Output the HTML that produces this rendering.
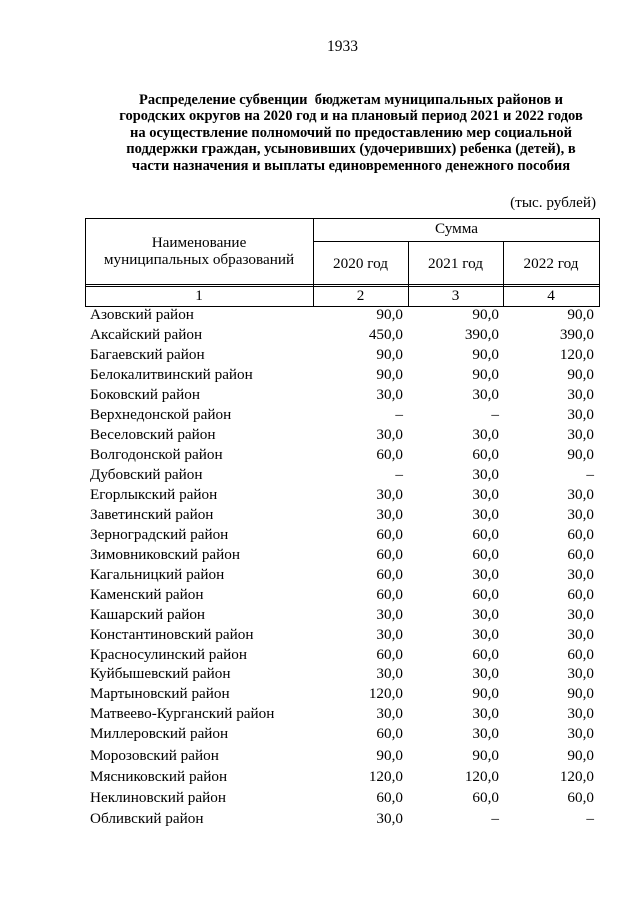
<!DOCTYPE html>
<html><head><meta charset="utf-8"><style>
body{margin:0;width:640px;height:905px;background:#fff;font-family:"Liberation Serif",serif;color:#000;position:relative;overflow:hidden}
.a{position:absolute;white-space:nowrap}
.t{position:absolute;left:86px;width:530px;text-align:center;font-weight:bold;font-size:14.5px;line-height:16.4px;top:92px;white-space:nowrap}
.h{position:absolute;background:#000;height:1px}
.v{position:absolute;background:#000;width:1px}
.r{position:absolute;left:90px;font-size:15.2px;width:510px;height:20px}
.r span{position:absolute;top:0}
.c2{right:197px}.c3{right:101px}.c4{right:6px}
.f{font-size:15.2px}
</style></head><body>
<div class="a" style="left:327px;top:38px;font-size:15.5px">1933</div>
<div class="t">Распределение субвенции&nbsp; бюджетам муниципальных районов и<br>городских округов на 2020 год и на плановый период 2021 и 2022 годов<br>на осуществление полномочий по предоставлению мер социальной<br>поддержки граждан, усыновивших (удочеривших) ребенка (детей), в<br>части назначения и выплаты единовременного денежного пособия</div>
<div class="a f" style="right:44px;top:194px">(тыс. рублей)</div>
<div class="h" style="left:85px;width:515px;top:218px"></div>
<div class="h" style="left:313px;width:287px;top:241px"></div>
<div class="h" style="left:85px;width:515px;top:284px"></div>
<div class="h" style="left:85px;width:515px;top:286px"></div>
<div class="h" style="left:85px;width:515px;top:306px"></div>
<div class="v" style="left:85px;top:218px;height:89px"></div>
<div class="v" style="left:313px;top:218px;height:89px"></div>
<div class="v" style="left:408px;top:241px;height:66px"></div>
<div class="v" style="left:503px;top:241px;height:66px"></div>
<div class="v" style="left:599px;top:218px;height:89px"></div>
<div class="a f" style="left:85px;width:228px;text-align:center;top:234px;line-height:17px">Наименование<br>муниципальных образований</div>
<div class="a f" style="left:313px;width:287px;text-align:center;top:220px">Сумма</div>
<div class="a f" style="left:313px;width:95px;text-align:center;top:255px">2020 год</div>
<div class="a f" style="left:408px;width:95px;text-align:center;top:255px">2021 год</div>
<div class="a f" style="left:503px;width:96px;text-align:center;top:255px">2022 год</div>
<div class="a f" style="left:85px;width:228px;text-align:center;top:287px">1</div>
<div class="a f" style="left:313px;width:95px;text-align:center;top:287px">2</div>
<div class="a f" style="left:408px;width:95px;text-align:center;top:287px">3</div>
<div class="a f" style="left:503px;width:96px;text-align:center;top:287px">4</div>
<div class="r" style="top:306px"><span>Азовский район</span><span class="c2">90,0</span><span class="c3">90,0</span><span class="c4">90,0</span></div>
<div class="r" style="top:326px"><span>Аксайский район</span><span class="c2">450,0</span><span class="c3">390,0</span><span class="c4">390,0</span></div>
<div class="r" style="top:346px"><span>Багаевский район</span><span class="c2">90,0</span><span class="c3">90,0</span><span class="c4">120,0</span></div>
<div class="r" style="top:366px"><span>Белокалитвинский район</span><span class="c2">90,0</span><span class="c3">90,0</span><span class="c4">90,0</span></div>
<div class="r" style="top:386px"><span>Боковский район</span><span class="c2">30,0</span><span class="c3">30,0</span><span class="c4">30,0</span></div>
<div class="r" style="top:406px"><span>Верхнедонской район</span><span class="c2">–</span><span class="c3">–</span><span class="c4">30,0</span></div>
<div class="r" style="top:426px"><span>Веселовский район</span><span class="c2">30,0</span><span class="c3">30,0</span><span class="c4">30,0</span></div>
<div class="r" style="top:446px"><span>Волгодонской район</span><span class="c2">60,0</span><span class="c3">60,0</span><span class="c4">90,0</span></div>
<div class="r" style="top:466px"><span>Дубовский район</span><span class="c2">–</span><span class="c3">30,0</span><span class="c4">–</span></div>
<div class="r" style="top:486px"><span>Егорлыкский район</span><span class="c2">30,0</span><span class="c3">30,0</span><span class="c4">30,0</span></div>
<div class="r" style="top:506px"><span>Заветинский район</span><span class="c2">30,0</span><span class="c3">30,0</span><span class="c4">30,0</span></div>
<div class="r" style="top:526px"><span>Зерноградский район</span><span class="c2">60,0</span><span class="c3">60,0</span><span class="c4">60,0</span></div>
<div class="r" style="top:546px"><span>Зимовниковский район</span><span class="c2">60,0</span><span class="c3">60,0</span><span class="c4">60,0</span></div>
<div class="r" style="top:566px"><span>Кагальницкий район</span><span class="c2">60,0</span><span class="c3">30,0</span><span class="c4">30,0</span></div>
<div class="r" style="top:586px"><span>Каменский район</span><span class="c2">60,0</span><span class="c3">60,0</span><span class="c4">60,0</span></div>
<div class="r" style="top:606px"><span>Кашарский район</span><span class="c2">30,0</span><span class="c3">30,0</span><span class="c4">30,0</span></div>
<div class="r" style="top:626px"><span>Константиновский район</span><span class="c2">30,0</span><span class="c3">30,0</span><span class="c4">30,0</span></div>
<div class="r" style="top:646px"><span>Красносулинский район</span><span class="c2">60,0</span><span class="c3">60,0</span><span class="c4">60,0</span></div>
<div class="r" style="top:665px"><span>Куйбышевский район</span><span class="c2">30,0</span><span class="c3">30,0</span><span class="c4">30,0</span></div>
<div class="r" style="top:685px"><span>Мартыновский район</span><span class="c2">120,0</span><span class="c3">90,0</span><span class="c4">90,0</span></div>
<div class="r" style="top:705px"><span>Матвеево-Курганский район</span><span class="c2">30,0</span><span class="c3">30,0</span><span class="c4">30,0</span></div>
<div class="r" style="top:725px"><span>Миллеровский район</span><span class="c2">60,0</span><span class="c3">30,0</span><span class="c4">30,0</span></div>
<div class="r" style="top:747px"><span>Морозовский район</span><span class="c2">90,0</span><span class="c3">90,0</span><span class="c4">90,0</span></div>
<div class="r" style="top:768px"><span>Мясниковский район</span><span class="c2">120,0</span><span class="c3">120,0</span><span class="c4">120,0</span></div>
<div class="r" style="top:789px"><span>Неклиновский район</span><span class="c2">60,0</span><span class="c3">60,0</span><span class="c4">60,0</span></div>
<div class="r" style="top:810px"><span>Обливский район</span><span class="c2">30,0</span><span class="c3">–</span><span class="c4">–</span></div>
</body></html>
